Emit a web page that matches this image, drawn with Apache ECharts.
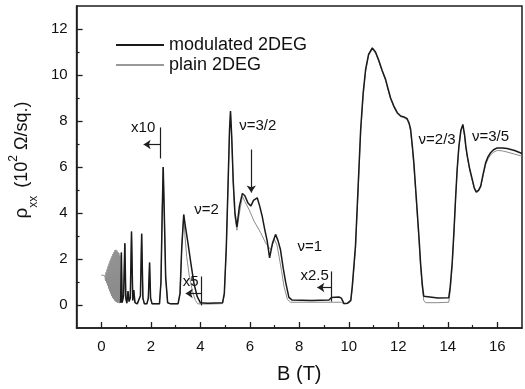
<!DOCTYPE html>
<html><head><meta charset="utf-8">
<script src="https://cdn.jsdelivr.net/npm/echarts@6/dist/echarts.min.js"></script>
<style>html,body{margin:0;padding:0;background:#fff}#c{width:525px;height:389px}</style>
</head><body><div id="c"></div>
<script>
// ---- data (B in tesla, rho_xx in 10^2 ohm/sq) ----
var xMajor = [0, 2, 4, 6, 8, 10, 12, 14, 16];
var xMinor = [1, 3, 5, 7, 9, 11, 13, 15];
var yMajor = [0, 2, 4, 6, 8, 10, 12];
var yMinor = [1, 3, 5, 7, 9, 11];

// dense low-field oscillations (plain 2DEG)
var plainBlob = [[0.00,1.30],[0.08,1.32],[0.14,1.28],[0.17,1.05],[0.19,1.42],[0.21,0.95],[0.23,1.55],[0.25,0.85],[0.27,1.68],[0.29,0.72],[0.31,1.80],[0.33,0.60],[0.35,1.92],[0.37,0.50],[0.39,2.02],[0.41,0.40],[0.43,2.12],[0.45,0.32],[0.47,2.22],[0.49,0.26],[0.51,2.30],[0.53,0.20],[0.55,2.38],[0.57,0.16],[0.59,2.40],[0.61,0.13],[0.63,2.36],[0.65,0.10],[0.67,2.30],[0.69,0.10],[0.71,2.25],[0.73,0.08],[0.75,2.15],[0.77,0.10]];

// low-field spikes (both samples)
var lowSpikes = [[0.78,0.10],[0.81,2.28],[0.84,0.10],[0.90,0.40],[0.95,2.68],[0.99,0.30],[1.03,0.08],[1.08,0.60],[1.12,0.15],[1.17,0.30],[1.22,3.20],[1.27,0.20],[1.31,0.65],[1.36,0.10],[1.45,0.05],[1.52,0.10],[1.58,0.40],[1.63,3.10],[1.68,0.30],[1.74,0.05],[1.84,0.05],[1.90,0.30],[1.95,1.85],[1.99,0.30],[2.05,0.05],[2.35,0.05],[2.41,1.00],[2.46,4.00],[2.50,6.00],[2.54,4.20],[2.60,1.20],[2.68,0.10],[2.80,0.05],[3.10,0.05],[3.18,0.50],[3.25,2.50],[3.33,3.93]];

var modRest = [[3.40,3.40],[3.50,2.70],[3.62,1.80],[3.75,0.90],[3.88,0.35],[4.00,0.10],[4.30,0.08],[4.90,0.10],[4.97,0.50],[5.05,2.50],[5.12,5.20],[5.18,7.60],[5.22,8.43],[5.27,7.30],[5.33,5.40],[5.40,4.00],[5.48,3.40],[5.50,3.45],[5.58,4.30],[5.70,4.85],[5.80,4.75],[5.92,4.45],[6.04,4.30],[6.15,4.55],[6.30,4.66],[6.40,4.30],[6.50,3.86],[6.60,3.30],[6.70,2.80],[6.80,2.05],[6.92,2.70],[7.04,3.07],[7.14,2.80],[7.24,2.40],[7.35,1.60],[7.45,0.98],[7.58,0.33],[7.70,0.22],[8.50,0.20],[9.20,0.22],[9.30,0.33],[9.60,0.35],[9.70,0.30],[9.80,0.07],[9.95,0.08],[10.08,0.20],[10.14,0.80],[10.27,2.56],[10.38,5.20],[10.48,7.63],[10.58,9.20],[10.68,10.24],[10.80,10.90],[10.95,11.18],[11.08,11.00],[11.20,10.67],[11.35,10.20],[11.49,9.80],[11.60,9.35],[11.69,9.00],[11.82,8.65],[11.96,8.36],[12.10,8.22],[12.23,8.18],[12.36,8.10],[12.44,7.90],[12.50,7.63],[12.57,6.90],[12.63,6.18],[12.70,5.10],[12.77,4.00],[12.84,2.90],[12.90,1.83],[12.97,0.90],[13.03,0.38],[13.10,0.30],[13.60,0.30],[14.04,0.32],[14.10,0.80],[14.18,1.85],[14.25,3.20],[14.32,4.73],[14.38,5.90],[14.45,6.90],[14.53,7.60],[14.61,7.85],[14.68,7.40],[14.73,6.90],[14.79,6.47],[14.89,5.90],[14.99,5.46],[15.07,5.10],[15.15,4.92],[15.24,4.98],[15.33,5.17],[15.43,5.70],[15.53,6.18],[15.63,6.45],[15.73,6.62],[15.85,6.75],[16.00,6.83],[16.20,6.83],[16.40,6.80],[16.70,6.72],[17.00,6.59]];

var plainRest = [[3.38,3.00],[3.45,2.10],[3.55,1.30],[3.68,0.60],[3.80,0.20],[3.90,0.05],[4.30,0.04],[4.90,0.06],[4.97,0.45],[5.05,2.40],[5.12,5.10],[5.18,7.50],[5.22,8.38],[5.27,7.20],[5.33,5.20],[5.40,3.80],[5.48,3.25],[5.50,3.30],[5.58,4.00],[5.70,4.73],[5.80,4.50],[5.97,4.15],[6.17,3.65],[6.44,3.14],[6.64,2.70],[6.84,2.41],[7.00,2.85],[7.10,2.60],[7.18,2.12],[7.28,1.50],[7.38,0.82],[7.52,0.24],[7.65,0.12],[9.70,0.12],[9.80,0.05],[9.95,0.06],[10.08,0.15],[10.14,0.70],[10.27,2.40],[10.38,5.00],[10.48,7.50],[10.58,9.10],[10.68,10.15],[10.80,10.85],[10.95,11.12],[11.08,10.95],[11.20,10.62],[11.35,10.15],[11.49,9.75],[11.60,9.30],[11.69,8.95],[11.82,8.60],[11.96,8.32],[12.10,8.18],[12.23,8.14],[12.36,8.05],[12.44,7.85],[12.50,7.55],[12.57,6.80],[12.63,6.05],[12.70,4.95],[12.77,3.85],[12.84,2.75],[12.90,1.70],[12.97,0.75],[13.03,0.20],[13.10,0.10],[13.60,0.10],[14.04,0.12],[14.10,0.60],[14.18,1.70],[14.25,3.10],[14.32,4.65],[14.38,5.85],[14.45,6.85],[14.53,7.55],[14.61,7.80],[14.68,7.35],[14.73,6.85],[14.79,6.42],[14.89,5.85],[14.99,5.40],[15.07,5.05],[15.15,4.88],[15.24,4.94],[15.33,5.12],[15.43,5.62],[15.53,6.10],[15.63,6.36],[15.73,6.52],[15.85,6.64],[16.00,6.72],[16.20,6.70],[16.40,6.65],[16.70,6.56],[17.00,6.47]];

// annotations in data coordinates
var annotTexts = [['x10',1.69,7.72],['x5',3.61,1.02],['x2.5',8.62,1.28],['\u03bd=2',4.25,4.15],['\u03bd=3/2',6.32,7.80],['\u03bd=1',8.42,2.54],['\u03bd=2/3',13.57,7.20],['\u03bd=3/5',15.73,7.33]];
var annotLines = [[[2.40,7.72],[2.40,6.37]],[[4.05,1.24],[4.05,-0.02]],[[9.30,1.46],[9.30,0.15]]];
var annotArrows = [[[2.40,6.98],[1.71,6.98]],[[4.05,0.50],[3.41,0.50]],[[9.30,0.76],[8.73,0.76]],[[6.06,6.76],[6.06,4.89]]];

var modulated = lowSpikes.concat(modRest);
var plain = plainBlob.concat(lowSpikes).concat(plainRest);

var FONT = 'Liberation Sans, Arial, sans-serif';
var ink = '#1e1e1e';

var mlData = [];
annotLines.forEach(function (l) {
  mlData.push([{coord: l[0], symbol: 'none'}, {coord: l[1], symbol: 'none'}]);
});
annotArrows.forEach(function (l) {
  mlData.push([{coord: l[0], symbol: 'none'}, {coord: l[1], symbol: 'arrow'}]);
});
var mpData = annotTexts.map(function (t) {
  return {name: t[0], coord: [t[1], t[2]]};
});

var chart = echarts.init(document.getElementById('c'), null, {renderer: 'canvas'});
chart.setOption({
  animation: false,
  backgroundColor: '#fff',
  grid: {left: 76, right: 3, top: 6, bottom: 60, show: true, borderColor: ink, borderWidth: 1.5, backgroundColor: 'transparent'},
  legend: {
    orient: 'vertical', left: 111, top: 31, itemGap: 2, itemWidth: 48, itemHeight: 2,
    textStyle: {fontFamily: FONT, fontSize: 18, color: '#111'},
    data: [
      {name: 'modulated 2DEG', icon: 'rect', itemStyle: {color: '#1a1a1a'}},
      {name: 'plain 2DEG', icon: 'rect', itemStyle: {color: '#999'}}
    ]
  },
  xAxis: [{
    type: 'value', min: -1, max: 17, position: 'bottom',
    axisLine: {show: true, onZero: false, lineStyle: {color: ink, width: 1.5}},
    axisTick: {show: true, inside: true, length: 6, customValues: xMajor, lineStyle: {color: ink, width: 1.3}},
    axisLabel: {customValues: xMajor, fontFamily: FONT, fontSize: 15, color: '#111', margin: 11},
    splitLine: {show: false},
    name: 'B (T)', nameLocation: 'middle', nameGap: 36,
    nameTextStyle: {fontFamily: FONT, fontSize: 20, color: '#111'}
  }, {
    type: 'value', min: -1, max: 17, position: 'bottom',
    axisLine: {show: false, onZero: false},
    axisTick: {show: true, inside: true, length: 3, customValues: xMinor, lineStyle: {color: ink, width: 1.2}},
    axisLabel: {show: false}, splitLine: {show: false}
  }],
  yAxis: [{
    type: 'value', min: -1, max: 13, position: 'left',
    axisLine: {show: true, onZero: false, lineStyle: {color: ink, width: 1.5}},
    axisTick: {show: true, inside: true, length: 6, customValues: yMajor, lineStyle: {color: ink, width: 1.3}},
    axisLabel: {customValues: yMajor, fontFamily: FONT, fontSize: 15, color: '#111', margin: 9},
    splitLine: {show: false},
    name: '{r|\u03c1}{s|xx}{n| (10}{p|2}{n| \u03a9/sq.)}', nameLocation: 'middle', nameGap: 39,
    nameTextStyle: {
      fontFamily: FONT, fontSize: 18, color: '#111', padding: [0, 0, 0, 14],
      rich: {
        r: {fontFamily: FONT, fontSize: 19, color: '#111', lineHeight: 24},
        s: {fontFamily: FONT, fontSize: 12, color: '#111', verticalAlign: 'bottom', lineHeight: 24, padding: [0, 3, -6, 0]},
        n: {fontFamily: FONT, fontSize: 18, color: '#111', lineHeight: 24},
        p: {fontFamily: FONT, fontSize: 12, color: '#111', verticalAlign: 'top', lineHeight: 24, padding: [-2, 0, 0, 0]}
      }
    }
  }, {
    type: 'value', min: -1, max: 13, position: 'left',
    axisLine: {show: false, onZero: false},
    axisTick: {show: true, inside: true, length: 3, customValues: yMinor, lineStyle: {color: ink, width: 1.2}},
    axisLabel: {show: false}, splitLine: {show: false}
  }],
  series: [{
    name: 'plain 2DEG', type: 'line', data: plain, xAxisIndex: 0, yAxisIndex: 0,
    showSymbol: false, symbol: 'none', z: 2,
    lineStyle: {color: '#8c8c8c', width: 1}, itemStyle: {color: '#8c8c8c'}
  }, {
    name: 'modulated 2DEG', type: 'line', data: modulated, xAxisIndex: 0, yAxisIndex: 0,
    showSymbol: false, symbol: 'none', z: 3,
    lineStyle: {color: '#1a1a1a', width: 1.5}, itemStyle: {color: '#1a1a1a'},
    markLine: {
      silent: true, animation: false, symbolSize: 7,
      lineStyle: {color: ink, width: 1.2, type: 'solid'},
      label: {show: false}, emphasis: {disabled: true},
      data: mlData
    },
    markPoint: {
      silent: true, animation: false, symbol: 'circle', symbolSize: 1,
      itemStyle: {color: 'rgba(0,0,0,0)'},
      label: {show: true, position: 'inside', formatter: '{b}', fontFamily: FONT, fontSize: 15, color: '#111'},
      data: mpData
    }
  }]
});
</script></body></html>
